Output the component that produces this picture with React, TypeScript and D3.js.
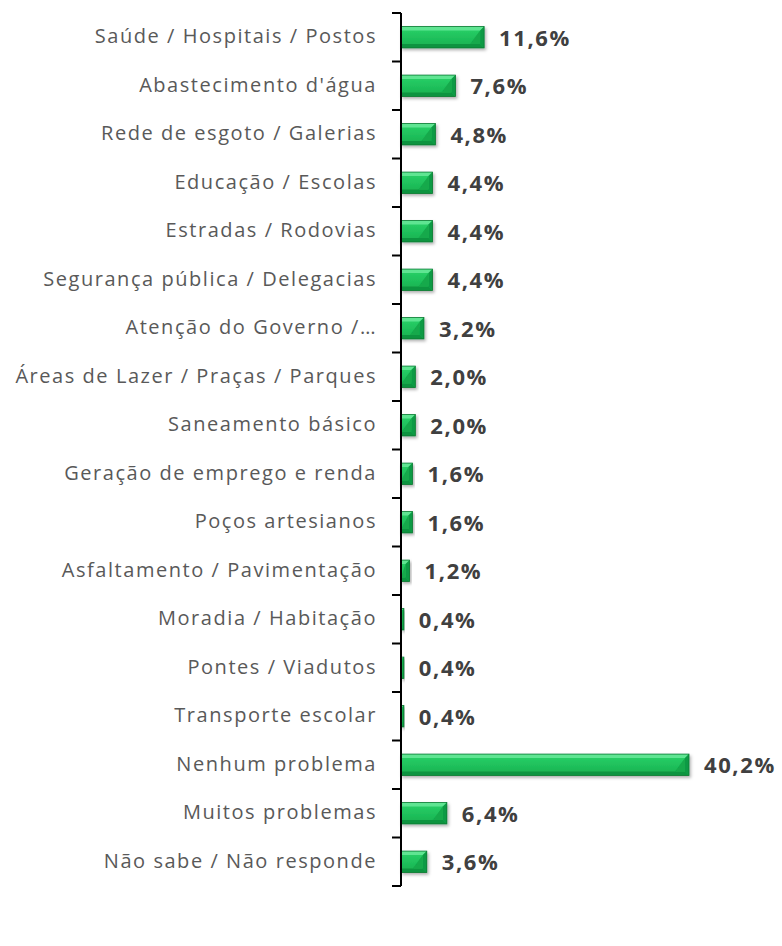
import React from "react"
import * as d3 from "d3"

const categories = [
  "Saúde / Hospitais / Postos",
  "Abastecimento d'água",
  "Rede de esgoto / Galerias",
  "Educação / Escolas",
  "Estradas / Rodovias",
  "Segurança pública / Delegacias",
  "Atenção do Governo /…",
  "Áreas de Lazer / Praças / Parques",
  "Saneamento básico",
  "Geração de emprego e renda",
  "Poços artesianos",
  "Asfaltamento / Pavimentação",
  "Moradia / Habitação",
  "Pontes / Viadutos",
  "Transporte escolar",
  "Nenhum problema",
  "Muitos problemas",
  "Não sabe / Não responde",
]
const values = [11.6, 7.6, 4.8, 4.4, 4.4, 4.4, 3.2, 2.0, 2.0, 1.6, 1.6, 1.2, 0.4, 0.4, 0.4, 40.2, 6.4, 3.6]

const WIDTH = 782
const HEIGHT = 946

export default function App() {
  const x = d3.scaleLinear().domain([0, 40.2]).range([401, 689])
  const y = d3.scaleBand<string>().domain(categories).range([13, 886]).paddingInner(0.56).paddingOuter(0.28)
  const bh = y.bandwidth()
  const fmt = (v: number) => v.toFixed(1).replace(".", ",") + "%"

  return (
    <svg width={WIDTH} height={HEIGHT} style={{ position: "absolute", left: 0, top: 0 }}>
      <defs>
        <linearGradient id="face" x1="0" y1="0" x2="0" y2="1">
          <stop offset="0" stopColor="#2ad36a" />
          <stop offset="1" stopColor="#16b04f" />
        </linearGradient>
        <filter id="shadow" x="-10%" y="-30%" width="130%" height="180%">
          <feDropShadow dx="1.5" dy="2" stdDeviation="1.5" floodColor="#000" floodOpacity="0.3" />
        </filter>
      </defs>
      <rect width={WIDTH} height={HEIGHT} fill="#fff" />
      {categories.map((c, i) => {
        const v = values[i]
        const y0 = y(c)!
        const cy = y0 + bh / 2
        const x0 = x(0)
        const x1 = x(v)
        const w = x1 - x0
        const b = Math.min(4, w / 2)
        return (
          <g key={c}>
            {w > 0 && (
              <g filter="url(#shadow)">
                <rect x={x0} y={y0} width={w} height={bh} fill="url(#face)" />
                <polygon points={`${x0},${y0} ${x1},${y0} ${x1 - b},${y0 + b} ${x0},${y0 + b}`} fill="#5fe592" />
                <polygon points={`${x0},${y0 + bh} ${x1},${y0 + bh} ${x1 - b},${y0 + bh - b} ${x0},${y0 + bh - b}`} fill="#0d9440" />
                <polygon
                  points={`${x1},${y0} ${x1},${y0 + bh} ${x1 - b},${y0 + bh - b} ${x1 - b},${y0 + b}`}
                  fill="#0f9a44"
                />
                <polygon
                  points={`${x1 - b},${y0 + b} ${x1 - b},${y0 + bh - b} ${Math.max(x0, x1 - b - 10)},${y0 + bh - b}`}
                  fill="#12a94b"
                />
                <rect x={x0} y={y0} width={w} height={bh} fill="none" stroke="#0b7a33" strokeWidth={0.8} />
              </g>
            )}
            <text
              x={377}
              y={cy}
              dy="0.29em"
              textAnchor="end"
              fontFamily="'Open Sans', sans-serif"
              fontSize={20}
              letterSpacing={1.55}
              fill="#595959"
            >
              {c}
            </text>
            <text
              x={x1 + 15}
              y={cy}
              dy="0.38em"
              fontFamily="'Open Sans', sans-serif"
              fontSize={22}
              fontWeight="bold"
              letterSpacing={1.6}
              fill="#404040"
            >
              {fmt(v)}
            </text>
          </g>
        )
      })}
      <line x1={401} x2={401} y1={13} y2={886} stroke="#000" strokeWidth={2} />
      {d3.range(categories.length + 1).map((k) => {
        const ty = 13 + k * y.step()
        return <line key={k} x1={392} x2={401} y1={ty} y2={ty} stroke="#000" strokeWidth={2} />
      })}
    </svg>
  )
}
